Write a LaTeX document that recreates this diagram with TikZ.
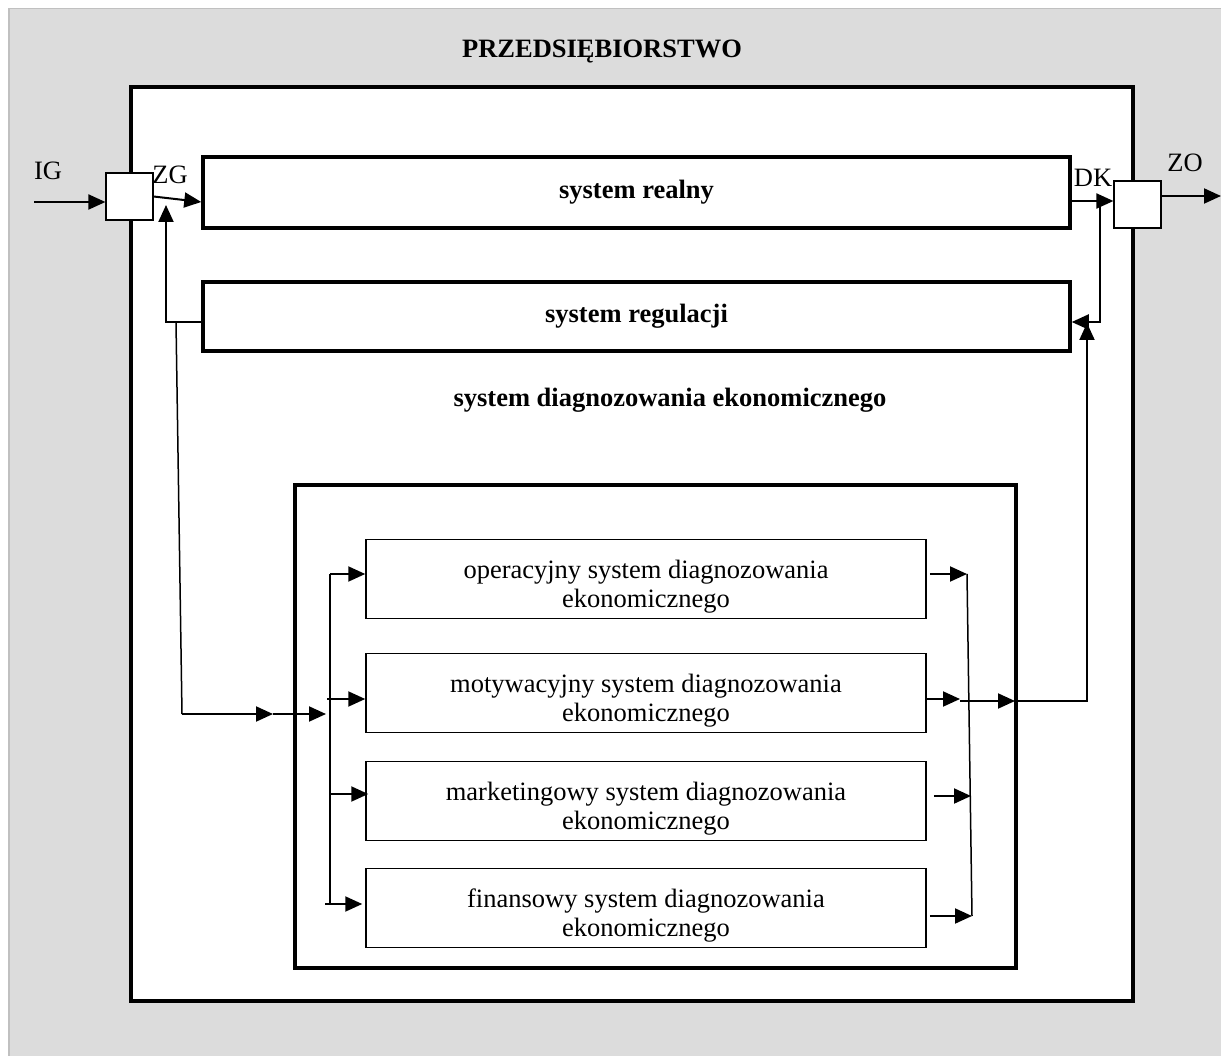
\documentclass[tikz,border=0pt]{standalone}
\usepackage{fontspec}
\setmainfont{Liberation Serif}
\usetikzlibrary{arrows.meta,positioning,calc}
\definecolor{panelgray}{HTML}{DCDCDC}
\definecolor{rimgray}{HTML}{C0C0C0}
\newcommand{\bigfont}{\fontsize{26.5}{29}\selectfont}
\newcommand{\topstrut}{\rule{0pt}{34pt}}

\begin{document}
\begin{tikzpicture}[x=1pt,y=-1pt,
  every node/.style={font=\bigfont},
  head/.style={font=\bigfont\bfseries},
  box/.style={draw,fill=white,line width=3.5pt,inner sep=0pt},
  subbox/.style={draw,fill=white,line width=1.5pt,inner sep=0pt,align=center,
    minimum width=560pt,minimum height=79pt},
  port/.style={draw,fill=white,line width=1.2pt,inner sep=0pt,minimum size=47pt},
  arr/.style={line width=2pt,-{Triangle[length=17pt,width=15pt]}},
  bus/.style={line width=1.5pt}]
\useasboundingbox (0,0) rectangle (1221,1056);
\node[draw=rimgray,fill=panelgray,line width=1.5pt,inner sep=0pt,anchor=north west,
  minimum width=1240pt,minimum height=1070pt] (panel) at (8,8) {};

% enterprise
\node[box,minimum width=1002pt,minimum height=914pt] (firm) at (632,544) {};
\node[head] (title) at (602,52) {PRZEDSIĘBIORSTWO};
\node[port] (inport) at (129.5,196.5) {};
\node[port] (outport) at (1137.5,204.5) {};
\node[box,head,minimum width=867pt,minimum height=71pt] (real) at (636.5,192.5) {system realny};
\node[box,head,minimum width=867pt,minimum height=69pt] (reg) at (636.5,316.5) {system regulacji};
\node[head] (diaglabel) at (670,400) {system diagnozowania ekonomicznego};

% diagnosis subsystems
\node[box,minimum width=721pt,minimum height=483pt] (inner) at (655.5,726.5) {};
\node[subbox] (oper) at (646,579) {\topstrut operacyjny system diagnozowania\\ekonomicznego};
\node[subbox] (motiv) at (646,693) {\topstrut motywacyjny system diagnozowania\\ekonomicznego};
\node[subbox] (market) at (646,801) {\topstrut marketingowy system diagnozowania\\ekonomicznego};
\node[subbox] (finan) at (646,908) {\topstrut finansowy system diagnozowania\\ekonomicznego};

\node (ig) at (48,171) {IG};
\node (zg) at (170,175) {ZG};
\node (dk) at (1093,178) {DK};
\node (zo) at (1185,163) {ZO};

\coordinate (igsrc) at (34,202);
\coordinate (zoend) at (1221,196);
\coordinate (dkfork) at (1100,201);
\coordinate (upend) at (1087,323);
\coordinate (tap) at (1015,701);
\coordinate (zgfb) at (166,205);
\coordinate (split) at (176,322);
\coordinate (corner) at (182,714);
\coordinate (mid) at (273,714);
\coordinate (lbin) at (326,714);
\coordinate (lbtop) at (330,574);
\coordinate (lbbot) at (330,903);
\coordinate (rbtop) at (967,574);
\coordinate (rbbot) at (972,916);

% main flow
\draw[arr] (igsrc) -- (igsrc -| inport.west);
\draw[arr] (inport.east) -- ([yshift=-9.5pt]real.west);
\draw[arr] ([yshift=-8.5pt]real.east) -- ([yshift=-8.5pt]real.east -| outport.west);
\draw[arr] ([yshift=8.5pt]outport.east) -- (zoend);
\draw[arr] (dkfork) |- ([yshift=-5.5pt]reg.east);
\draw[arr] ([yshift=-5.5pt]reg.west) -| (zgfb);

% feedback into the diagnosis block
\draw[bus] (split) -- (corner);
\draw[arr] (corner) -- (mid);
\draw[arr] (mid) -- (lbin);
\draw[bus] (lbtop) -- (lbbot);
\draw[arr] (lbtop) -- ([yshift=5pt]oper.west);
\draw[arr] (327,699) -- ([yshift=-6pt]motiv.west);
\draw[arr] (330,794) -- ([xshift=3pt,yshift=7pt]market.west);
\draw[arr] (325,904) -- ([xshift=-3pt,yshift=4pt]finan.west);

% outputs of the subsystems
\draw[bus] (rbtop) -- (rbbot);
\draw[arr] ([xshift=3pt,yshift=5pt]oper.east) -- (rbtop);
\draw[arr] ([yshift=-6pt]motiv.east) -- (960,699);
\draw[arr] ([xshift=7pt,yshift=5pt]market.east) -- (971,796);
\draw[arr] ([xshift=3pt,yshift=-8pt]finan.east) -- (rbbot);
\draw[arr] (960,701) -- (tap);
\draw[arr] (tap) -| (upend);
\end{tikzpicture}
\end{document}
